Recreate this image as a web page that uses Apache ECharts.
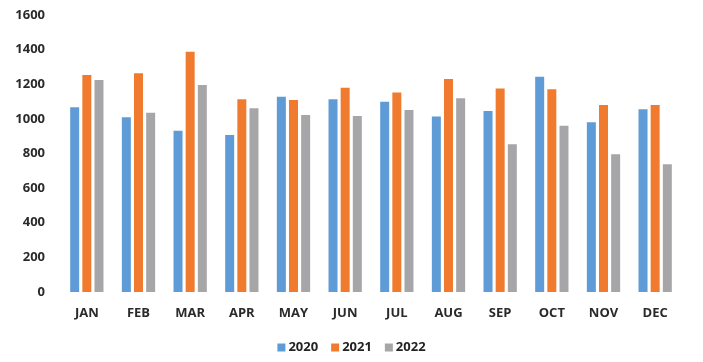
<!DOCTYPE html>
<html><head><meta charset="utf-8">
<script src="https://cdn.jsdelivr.net/npm/echarts@6/dist/echarts.min.js"></script>
<style>html,body{margin:0;padding:0;background:#fff}#c{width:703px;height:362px}</style>
</head><body><div id="c"></div>
<script>
const categories = ['JAN','FEB','MAR','APR','MAY','JUN','JUL','AUG','SEP','OCT','NOV','DEC'];
const s2020 = [1067,1009,932,907,1128,1113,1099,1013,1045,1244,980,1055];
const s2021 = [1253,1263,1388,1113,1109,1180,1153,1230,1176,1171,1080,1080];
const s2022 = [1224,1036,1196,1061,1022,1017,1051,1119,853,961,795,738];
const yTicks = [0,200,400,600,800,1000,1200,1400,1600];

const chart = echarts.init(document.getElementById('c'));
const font = 'Open Sans';
const mk = (name, data, color) => ({
  name, type: 'bar', data, barWidth: 9, barGap: '35%',
  itemStyle: { color }
});
chart.setOption({
  animation: false,
  backgroundColor: '#fff',
  grid: { left: 61, right: 22, top: 15, bottom: 70 },
  legend: {
    bottom: 3, left: 'center', itemWidth: 8, itemHeight: 8, itemGap: 13,
    icon: 'rect',
    textStyle: { fontFamily: font, fontSize: 13, fontWeight: 'bold', color: '#222', padding: [0,0,0,-2] },
    data: ['2020','2021','2022']
  },
  xAxis: {
    type: 'category', data: categories,
    axisLine: { show: false }, axisTick: { show: false },
    axisLabel: { fontFamily: font, fontSize: 13, fontWeight: 'bold', color: '#2a2a2a', margin: 15 }
  },
  yAxis: {
    type: 'value', min: yTicks[0], max: yTicks[yTicks.length-1], interval: 200,
    splitLine: { show: false }, axisLine: { show: false }, axisTick: { show: false },
    axisLabel: { fontFamily: font, fontSize: 13, fontWeight: 'bold', color: '#2a2a2a', margin: 16,
      formatter: v => String(v) }
  },
  series: [
    mk('2020', s2020, '#5f9bd6'),
    mk('2021', s2021, '#f07b2f'),
    mk('2022', s2022, '#a6a6a8')
  ]
});
</script></body></html>
